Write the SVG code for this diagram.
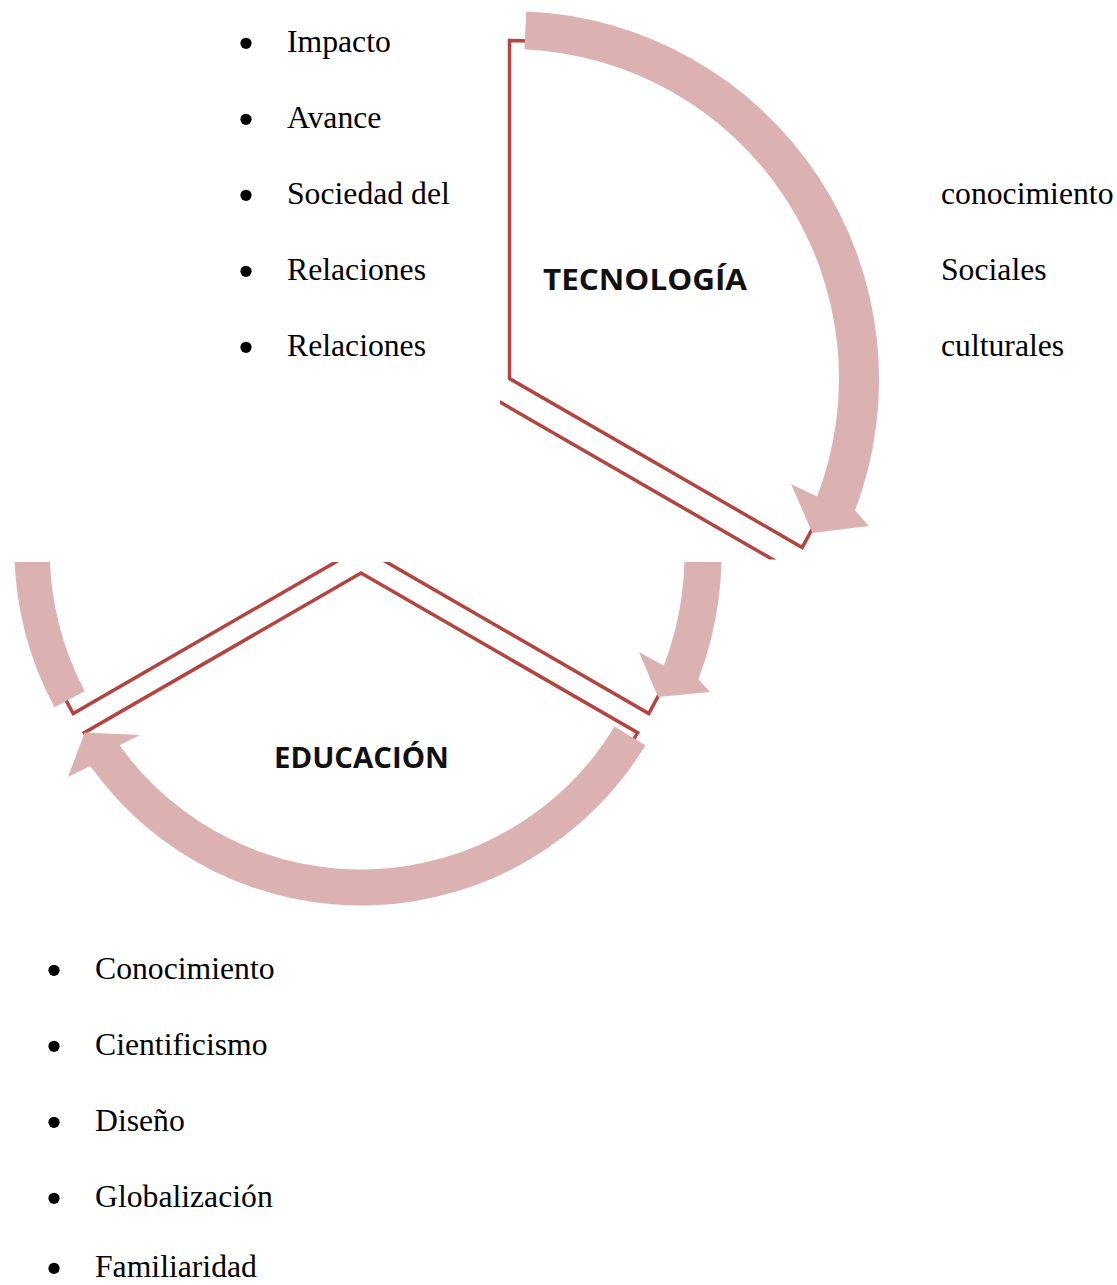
<svg xmlns="http://www.w3.org/2000/svg" width="1117" height="1285" viewBox="0 0 1117 1285">
<style>
.list{font-family:"Liberation Serif","Times New Roman",serif;font-size:31.7px;fill:#000}
.lbl{font-family:"Open Sans","Liberation Sans",sans-serif;font-weight:700;font-size:28px;fill:#111}
.seg{fill:#fff;stroke:#B3443F;stroke-width:3.5;stroke-linejoin:miter}
.arr{fill:#DCB1B1}
.dot{fill:#000}
</style>
<defs>
<clipPath id="clipTop"><rect x="500" y="0" width="420" height="559.5"/></clipPath>
<clipPath id="clipBottom"><rect x="0" y="562" width="760" height="360"/></clipPath>
</defs>
<rect width="1117" height="1285" fill="#fff"/>

<g id="list-top">
<circle class="dot" cx="246" cy="43.3" r="5.6"/>
<circle class="dot" cx="246" cy="119.3" r="5.6"/>
<circle class="dot" cx="246" cy="195.3" r="5.6"/>
<circle class="dot" cx="246" cy="271.3" r="5.6"/>
<circle class="dot" cx="246" cy="347.3" r="5.6"/>
<text class="list" x="287" y="52">Impacto</text>
<text class="list" x="287" y="128">Avance</text>
<text class="list" x="287" y="204">Sociedad del</text>
<text class="list" x="287" y="280">Relaciones</text>
<text class="list" x="287" y="356">Relaciones</text>
<text class="list" x="941" y="204">conocimiento</text>
<text class="list" x="941" y="280">Sociales</text>
<text class="list" x="941" y="356">culturales</text>
</g>

<g id="diagram-top" clip-path="url(#clipTop)">
<g id="node-tecnologia-shape">
<path class="seg" d="M509.5,378.5 L509.5,40.5 A338,338 0 0 1 802.2,547.5 Z"/>
</g>
<g id="node-educacion-shape-top">
<path class="seg" d="M496.9,400.25 L789.6,569.25 A338,338 0 0 1 204.2,569.25 Z"/>
</g>
<g id="connectors-top">
<path class="arr" d="M526.2,11.4 A368.5,368.5 0 0 1 855,510.6 L869,526 L812.4,532.9 L791,484 L817.1,496.6 A329.5,329.5 0 0 0 524.45,49.34 Z"/>
</g>
</g>
<g id="node-tecnologia">
<text class="lbl" x="543" y="290" textLength="204" lengthAdjust="spacingAndGlyphs">TECNOLOGÍA</text>
</g>

<g id="diagram-bottom" clip-path="url(#clipBottom)">
<g id="node-tecnologia-shape-bottom">
<path class="seg" d="M372.1,553.8 L372.1,234.3 A319.5,319.5 0 0 1 648.8,713.55 Z"/>
</g>
<g id="node-third-shape">
<path class="seg" d="M349.9,553.8 L73.2,713.55 A319.5,319.5 0 0 1 349.9,234.3 Z"/>
</g>
<g id="node-educacion-shape">
<path class="seg" d="M361,573 L637.7,732.75 A319.5,319.5 0 0 1 84.3,732.75 Z"/>
</g>
<g id="connectors-bottom">
<path class="arr" d="M387.95,204.66 A349.5,349.5 0 0 1 698.4,679.05 L710,692 L658,697 L639,652 L663.8,665.8 A312.5,312.5 0 0 0 386.27,241.62 Z"/>
<path class="arr" d="M645.4,745.2 A332.5,332.5 0 0 1 90.3,766.1 L68,777 L84.7,732.5 L140,735 L119.6,745.2 A296.5,296.5 0 0 0 614.6,726.6 Z"/>
<path class="arr" d="M54.45,707.2 A336,336 0 0 1 297.1,216.2 L290.6,174.7 L333.2,229.4 L308.55,288.3 L302.3,248.75 A305,305 0 0 0 84.7,691.2 Z"/>
</g>
</g>
<g id="node-educacion">
<text class="lbl" x="274" y="768" textLength="175" lengthAdjust="spacingAndGlyphs">EDUCACIÓN</text>
</g>

<g id="list-bottom">
<circle class="dot" cx="54" cy="970.3" r="5.6"/>
<circle class="dot" cx="54" cy="1046.3" r="5.6"/>
<circle class="dot" cx="54" cy="1122.3" r="5.6"/>
<circle class="dot" cx="54" cy="1198.3" r="5.6"/>
<circle class="dot" cx="54" cy="1268.3" r="5.6"/>
<text class="list" x="95" y="979">Conocimiento</text>
<text class="list" x="95" y="1055">Cientificismo</text>
<text class="list" x="95" y="1131">Diseño</text>
<text class="list" x="95" y="1207">Globalización</text>
<text class="list" x="95" y="1277">Familiaridad</text>
</g>
</svg>
